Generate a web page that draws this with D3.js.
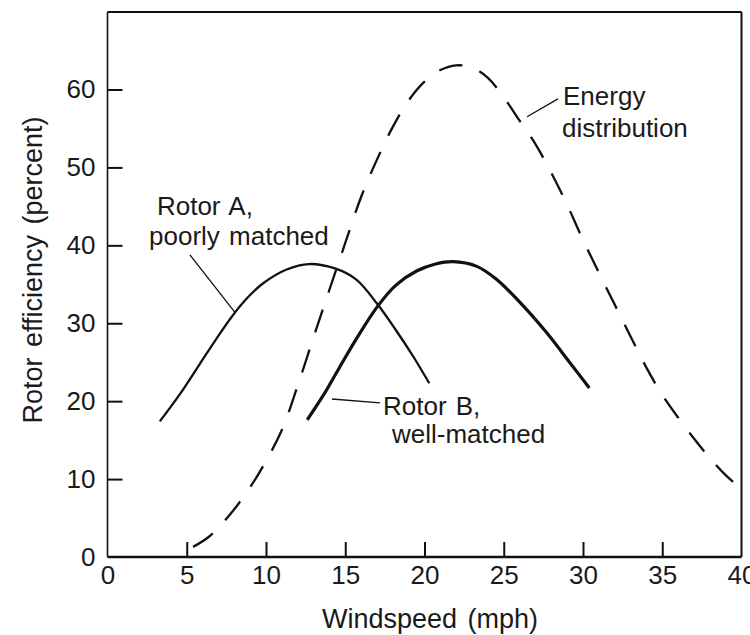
<!DOCTYPE html>
<html>
<head>
<meta charset="utf-8">
<script src="https://cdn.jsdelivr.net/npm/d3@7"></script>
<style>
  html, body { margin: 0; padding: 0; background: #fff; }
  svg { display: block; }
  text { font-family: "Liberation Sans", Arial, Helvetica, sans-serif; fill: #1a1a1a; }
</style>
</head>
<body>
<svg id="chart" width="750" height="635"></svg>
<script>
// ---------- data ----------
const xTicks = [0, 5, 10, 15, 20, 25, 30, 35, 40];
const yTicks = [0, 10, 20, 30, 40, 50, 60];

const rotorAX = [3.3, 4.5, 5.8, 6.9, 7.9, 8.8, 9.8, 11.3, 12.7, 14.4, 15.7, 17.05, 18.2, 19.3, 20.3];
const rotorAY = [17.4, 20.7, 24.7, 28.1, 31.0, 33.2, 35.1, 36.9, 37.6, 37.0, 35.6, 32.4, 29.1, 25.7, 22.3];

const rotorBX = [12.6, 13.6, 14.6, 15.7, 17.05, 18.2, 19.5, 20.7, 21.8, 23.3, 24.5, 26.2, 27.7, 29.15, 30.4];
const rotorBY = [17.6, 20.7, 24.2, 28.0, 32.2, 34.9, 36.7, 37.6, 37.9, 37.3, 35.7, 32.3, 28.8, 25.0, 21.7];

const energyX = [5.4, 6.4, 7.5, 8.75, 9.8, 11, 12, 13, 14, 15, 16, 17, 18, 19, 20, 21, 22, 23, 24, 25, 26, 27, 28, 29, 30, 31, 32, 33, 34, 35, 36, 37, 38, 39, 39.9];
const energyY = [1.3, 2.6, 4.9, 8.2, 11.6, 16.3, 22.0, 28.2, 34.3, 40.3, 46.2, 51.0, 55.2, 58.6, 61.0, 62.5, 63.1, 62.8, 61.5, 59.0, 56.0, 53.0, 49.3, 45.2, 40.7, 36.5, 32.4, 28.3, 24.3, 20.8, 17.9, 15.2, 12.7, 10.5, 8.9];

const xTitle = "Windspeed (mph)";
const yTitle = "Rotor efficiency (percent)";

// ---------- layout ----------
const svg = d3.select("#chart");
const L = 107.5, R = 741.5, T = 12, B = 557;
const x = d3.scaleLinear().domain([0, 40]).range([L, R]);
const y = d3.scaleLinear().domain([0, 60]).range([B, 89.5]);

const zip = (xs, ys) => xs.map((v, i) => [v, ys[i]]);
const line = d3.line().x(d => x(d[0])).y(d => y(d[1])).curve(d3.curveCatmullRom.alpha(0.5));

// axes (ticks inward)
const gx = svg.append("g").attr("transform", `translate(0,${B})`)
  .call(d3.axisBottom(x).tickValues(xTicks).tickSize(-15).tickPadding(9).tickFormat(d3.format("d")));
const gy = svg.append("g").attr("transform", `translate(${L},0)`)
  .call(d3.axisLeft(y).tickValues(yTicks).tickSize(-15).tickPadding(12).tickFormat(d3.format("d")));
[gx, gy].forEach(g => {
  g.select(".domain").remove();
  g.selectAll(".tick line").attr("stroke", "#111").attr("stroke-width", 2);
  g.selectAll(".tick text").attr("font-size", 26).attr("fill", "#1a1a1a")
    .style("font-family", '"Liberation Sans", Arial, sans-serif');
});
gx.selectAll(".tick").filter(d => d === 0 || d === 40).select("line").remove();
gy.selectAll(".tick").filter(d => d === 0).select("line").remove();

// frame
svg.append("line").attr("x1", L).attr("x2", L).attr("y1", T).attr("y2", B).attr("stroke", "#111").attr("stroke-width", 1.6);
svg.append("line").attr("x1", L).attr("x2", R).attr("y1", B).attr("y2", B).attr("stroke", "#111").attr("stroke-width", 2.4);
svg.append("line").attr("x1", L).attr("x2", R).attr("y1", T).attr("y2", T).attr("stroke", "#111").attr("stroke-width", 2);
svg.append("line").attr("x1", R).attr("x2", R).attr("y1", T).attr("y2", B).attr("stroke", "#111").attr("stroke-width", 2);

// curves
svg.append("path").datum(zip(energyX, energyY)).attr("d", line)
  .attr("fill", "none").attr("stroke", "#111").attr("stroke-width", 2.3).attr("stroke-dasharray", "24,18");
svg.append("path").datum(zip(rotorAX, rotorAY)).attr("d", line)
  .attr("fill", "none").attr("stroke", "#111").attr("stroke-width", 2.3);
svg.append("path").datum(zip(rotorBX, rotorBY)).attr("d", line)
  .attr("fill", "none").attr("stroke", "#111").attr("stroke-width", 3.2);

// annotations (positions in data units)
const notes = [
  { lines: ["Rotor A,", "poorly matched"], at: [[3.12, 43.9], [2.62, 40.05]], leader: [[5.2, 38.77], [8.04, 31.4]] },
  { lines: ["Rotor B,", "well-matched"], at: [[17.38, 18.23], [17.95, 14.63]], leader: [[14.16, 20.28], [17.19, 19.77]] },
  { lines: ["Energy", "distribution"], at: [[28.74, 58.0], [28.68, 53.9]], leader: [[26.47, 56.5], [28.42, 58.8]] }
];
notes.forEach(n => {
  n.lines.forEach((t, i) => {
    svg.append("text").attr("x", x(n.at[i][0])).attr("y", y(n.at[i][1]))
      .attr("font-size", 26).attr("word-spacing", 2).text(t);
  });
  svg.append("line")
    .attr("x1", x(n.leader[0][0])).attr("y1", y(n.leader[0][1]))
    .attr("x2", x(n.leader[1][0])).attr("y2", y(n.leader[1][1]))
    .attr("stroke", "#111").attr("stroke-width", 1.3);
});

// axis titles
svg.append("text").attr("x", 430).attr("y", 628).attr("text-anchor", "middle")
  .attr("font-size", 27).attr("word-spacing", 3).text(xTitle);
svg.append("text").attr("transform", `translate(42,${270}) rotate(-90)`).attr("text-anchor", "middle")
  .attr("font-size", 27).attr("word-spacing", 3).text(yTitle);
</script>
</body>
</html>
